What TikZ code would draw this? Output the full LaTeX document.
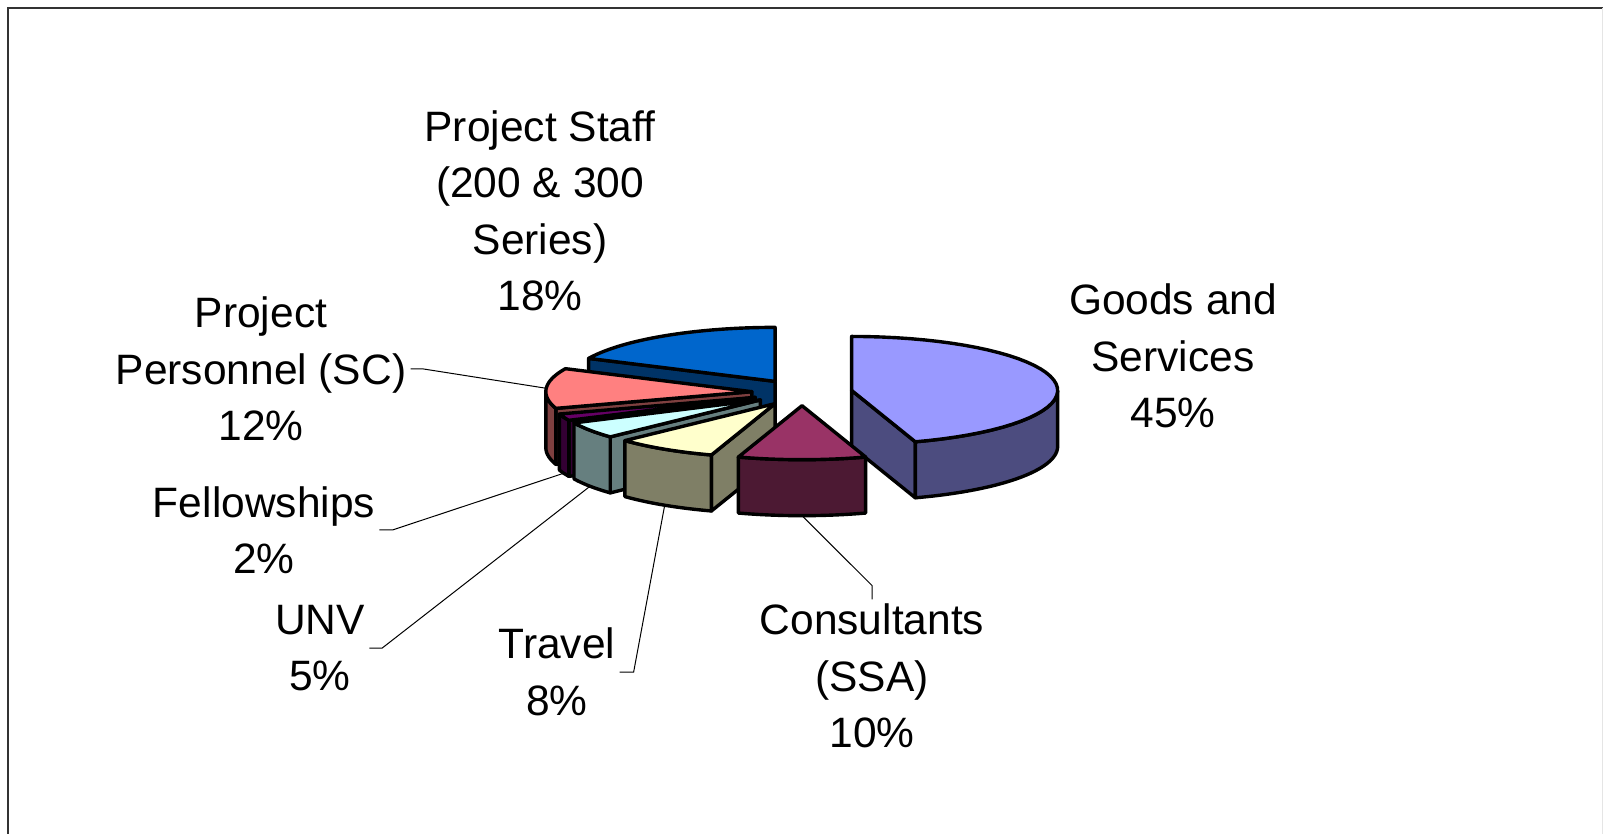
\documentclass[tikz,border=0pt]{standalone}
\usepackage{fontspec}
\setmainfont{Liberation Sans}
\usetikzlibrary{calc}

\definecolor{goodsTop}{HTML}{9999FF}\definecolor{goodsSide}{HTML}{4C4C7F}
\definecolor{consTop}{HTML}{993366}\definecolor{consSide}{HTML}{4C1933}
\definecolor{travTop}{HTML}{FFFFCC}\definecolor{travSide}{HTML}{7F7F66}
\definecolor{unvTop}{HTML}{CCFFFF}\definecolor{unvSide}{HTML}{667F7F}
\definecolor{fellTop}{HTML}{660066}\definecolor{fellSide}{HTML}{330033}
\definecolor{persTop}{HTML}{FF8080}\definecolor{persSide}{HTML}{7F4040}
\definecolor{staffTop}{HTML}{0066CC}\definecolor{staffSide}{HTML}{003366}

% pie size (px): radii, depth, explosion
\def\prx{206}
\def\pry{54}
\def\pdep{56}
\def\pexp{0.244}

% #1 start angle, #2 end angle (clockwise from back), #3 top, #4 side, #5 name
\newcommand{\pieslice}[5]{%
  \pgfmathsetmacro{\midang}{(#1+#2)/2}
  \begin{scope}[shift={({\pexp*\prx*sin(\midang)},{-\pexp*\pry*cos(\midang)})}]
    \coordinate (#5) at (0,0);
    \coordinate (#5-top) at ({\prx*sin(\midang)},{-\pry*cos(\midang)});
    \coordinate (#5-bot) at ({\prx*sin(\midang)},{-\pry*cos(\midang)+\pdep});
    % cut faces
    \ifdim #1pt>180pt
      \draw[face,fill=#4] (0,0) -- ({\prx*sin(#1)},{-\pry*cos(#1)}) -- ++(0,\pdep) -- (0,\pdep) -- cycle;
    \fi
    \ifdim #2pt<180pt
      \draw[face,fill=#4] (0,0) -- ({\prx*sin(#2)},{-\pry*cos(#2)}) -- ++(0,\pdep) -- (0,\pdep) -- cycle;
    \fi
    % rim
    \pgfmathsetmacro{\rima}{max(#1,90)}
    \pgfmathsetmacro{\rimb}{min(#2,270)}
    \ifdim \rima pt<\rimb pt
      \draw[face,fill=#4] plot[domain=\rima:\rimb,samples=40] ({\prx*sin(\x)},{-\pry*cos(\x)})
        -- plot[domain=\rimb:\rima,samples=40] ({\prx*sin(\x)},{-\pry*cos(\x)+\pdep}) -- cycle;
    \fi
    % top
    \draw[face,fill=#3] (0,0) -- plot[domain=#1:#2,samples=40] ({\prx*sin(\x)},{-\pry*cos(\x)}) -- cycle;
  \end{scope}}

\begin{document}
\begin{tikzpicture}[x=0.5pt,y=-0.5pt,
  face/.style={draw=black,line width=1.7pt,line join=round},
  leader/.style={draw=black,line width=0.5pt},
  lbl/.style={align=center,inner sep=2pt,font=\fontsize{21.25pt}{28.25pt}\selectfont}]
\useasboundingbox (0,0) rectangle (1603,834);
\draw[line width=1pt,black!80] (8,834) -- (8,8) -- (1603,8);
\draw[black!10] (1602,8) -- (1602,834);

% slices, back to front
\begin{scope}[shift={(802,392.5)}]
\pieslice{295.2}{360}{staffTop}{staffSide}{staff-s}
\pieslice{252}{295.2}{persTop}{persSide}{pers-s}
\pieslice{0}{162}{goodsTop}{goodsSide}{goods-s}
\pieslice{244.8}{252}{fellTop}{fellSide}{fell-s}
\pieslice{226.8}{244.8}{unvTop}{unvSide}{unv-s}
\pieslice{198}{226.8}{travTop}{travSide}{trav-s}
\pieslice{162}{198}{consTop}{consSide}{cons-s}
\end{scope}

% labels
\node[lbl] (staff) at (540,211) {Project Staff\\(200 \& 300\\Series)\\18\%};
\node[lbl] (goods) at (1173,356) {Goods and\\Services\\45\%};
\node[lbl] (pers) at (261,369) {Project\\Personnel (SC)\\12\%};
\node[lbl] (fell) at (264,530) {Fellowships\\2\%};
\node[lbl] (unv) at (320,648) {UNV\\5\%};
\node[lbl] (trav) at (557,672) {Travel\\8\%};
\node[lbl] (cons) at (872,676) {Consultants\\(SSA)\\10\%};

% leader lines
\draw[leader] (pers.east) -- ++(13,0) -- (pers-s-top);
\draw[leader] (fell.east) -- ++(13,0) -- (fell-s-bot);
\draw[leader] (unv.east) -- ++(13,0) -- (unv-s-bot);
\draw[leader] (trav.east) -- ++(14,0) -- (trav-s-bot);
\draw[leader] (cons.north) -- ++(0,-14) -- (cons-s-bot);
\end{tikzpicture}
\end{document}
